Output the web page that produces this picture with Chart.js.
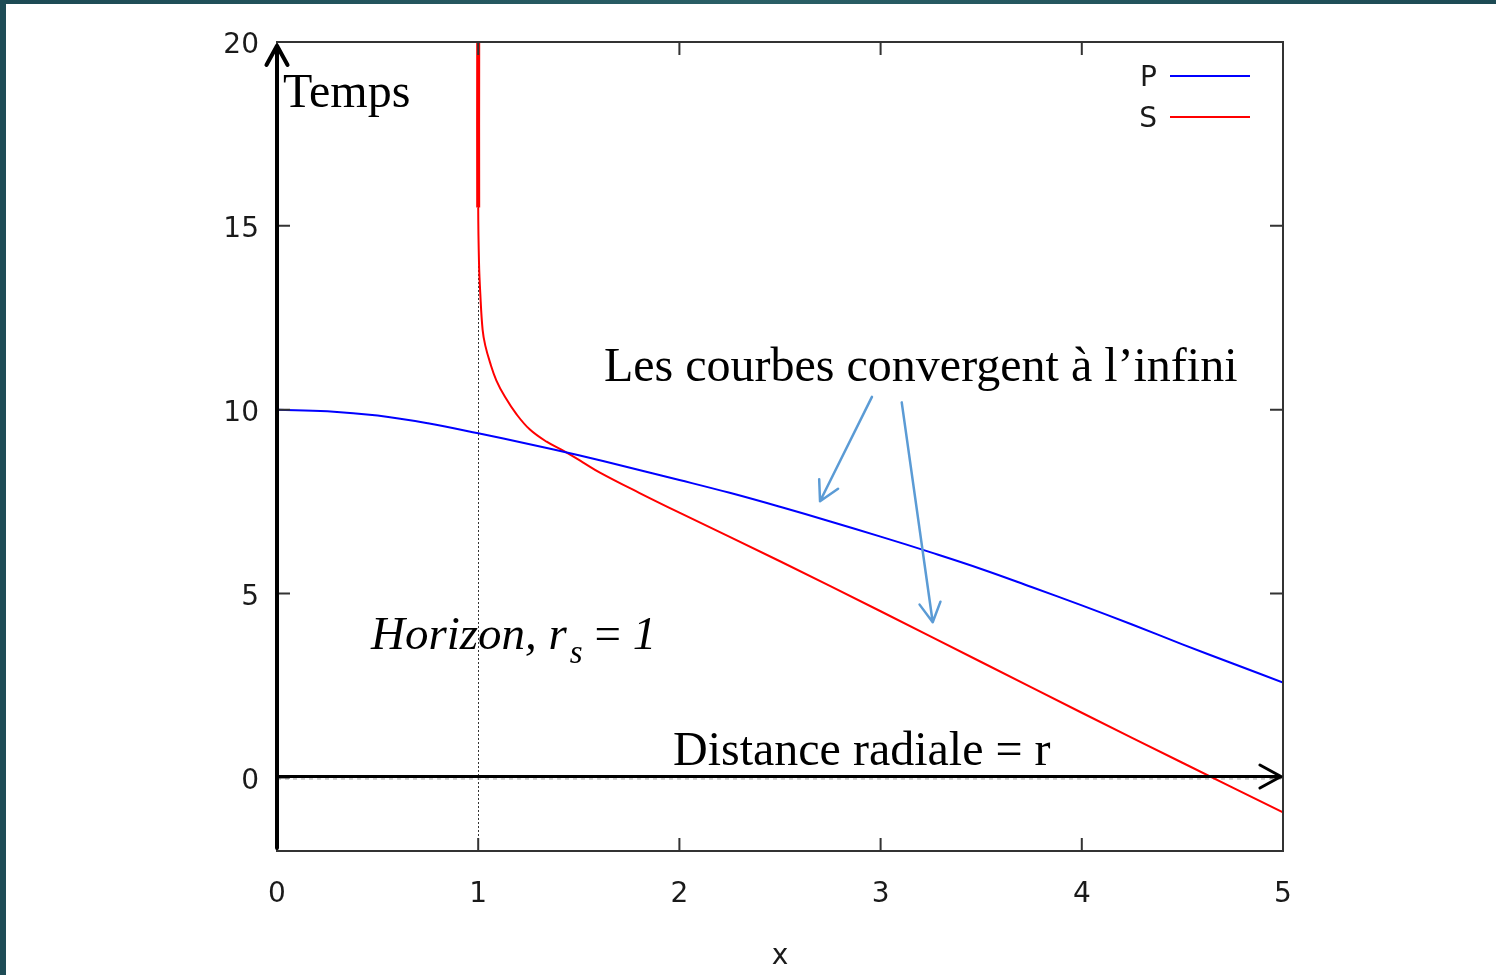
<!DOCTYPE html>
<html>
<head>
<meta charset="utf-8">
<script src="https://cdn.jsdelivr.net/npm/chart.js@4"></script>
<style>
  html, body { margin: 0; padding: 0; background: #fff; }
  #wrap { width: 1496px; height: 975px; }
</style>
</head>
<body>
<div id="wrap"><canvas id="grafico" width="1496" height="975"></canvas></div>
<script>
// Données
const xTicks = [0, 1, 2, 3, 4, 5];
const yTicks = [0, 5, 10, 15, 20];

const pX = [0, 0.25, 0.5, 0.75, 1, 1.25, 1.5, 1.75, 2, 2.25, 2.5, 2.75, 3, 3.25, 3.5, 3.75, 4, 4.25, 4.5, 4.75, 5];
const pT = [10.00, 9.96, 9.84, 9.63, 9.36, 9.07, 8.76, 8.43, 8.09, 7.74, 7.36, 6.96, 6.55, 6.12, 5.67, 5.18, 4.68, 4.16, 3.62, 3.10, 2.58];

const sX = [1.0, 1.0, 1.004, 1.01, 1.022, 1.035, 1.059, 1.09, 1.133, 1.19, 1.257, 1.34, 1.431, 1.52, 1.605, 1.8, 2.0, 2.5, 3.0, 3.5, 4.0, 4.5, 5.0];
const sT = [20, 15.5, 14.0, 13.2, 12.17, 11.75, 11.28, 10.8, 10.35, 9.88, 9.46, 9.13, 8.86, 8.57, 8.29, 7.74, 7.2, 5.88, 4.52, 3.14, 1.76, 0.4, -0.95];

const serif = '"Liberation Serif", "Times New Roman", serif';
const sans = '"DejaVu Sans", Verdana, sans-serif';

document.addEventListener("DOMContentLoaded", () => {
  function fleche(ctx, x0, y0, x1, y1, head, width, color) {
    const a = Math.atan2(y1 - y0, x1 - x0);
    ctx.save();
    ctx.strokeStyle = color;
    ctx.lineWidth = width;
    ctx.lineCap = "round";
    ctx.lineJoin = "round";
    ctx.beginPath();
    ctx.moveTo(x0, y0);
    ctx.lineTo(x1, y1);
    ctx.moveTo(x1 - head * Math.cos(a - 0.5), y1 - head * Math.sin(a - 0.5));
    ctx.lineTo(x1, y1);
    ctx.lineTo(x1 - head * Math.cos(a + 0.5), y1 - head * Math.sin(a + 0.5));
    ctx.stroke();
    ctx.restore();
  }

  const decor = {
    id: "decor",
    beforeDraw(chart) {
      const ctx = chart.ctx;
      ctx.save();
      const g = ctx.createLinearGradient(0, 0, 1496, 0);
      g.addColorStop(0, "#1d4a54");
      g.addColorStop(0.5, "#2a5f66");
      g.addColorStop(1, "#1d4a54");
      ctx.fillStyle = g;
      ctx.fillRect(0, 0, 1496, 4);
      ctx.fillStyle = "#1e4c56";
      ctx.fillRect(0, 0, 6, 975);
      ctx.restore();
    },
    beforeDatasetsDraw(chart) {
      const { ctx, chartArea: a, scales: { x, y } } = chart;
      ctx.save();
      // ligne de l'horizon
      ctx.strokeStyle = "#333";
      ctx.lineWidth = 1;
      ctx.setLineDash([2, 2]);
      ctx.beginPath();
      ctx.moveTo(Math.round(x.getPixelForValue(1)) + 0.5, a.top);
      ctx.lineTo(Math.round(x.getPixelForValue(1)) + 0.5, a.bottom);
      ctx.stroke();
      // ligne zéro
      ctx.strokeStyle = "#999";
      ctx.setLineDash([4, 4]);
      ctx.beginPath();
      ctx.moveTo(a.left, y.getPixelForValue(0) + 1.5);
      ctx.lineTo(a.right, y.getPixelForValue(0) + 1.5);
      ctx.stroke();
      ctx.restore();
    },
    afterDraw(chart) {
      const { ctx, chartArea: a, scales: { x, y } } = chart;
      ctx.save();
      // cadre + graduations intérieures
      ctx.strokeStyle = "#333";
      ctx.lineWidth = 2;
      ctx.strokeRect(a.left, a.top, a.right - a.left, a.bottom - a.top);
      ctx.beginPath();
      xTicks.forEach(v => {
        const px = x.getPixelForValue(v);
        ctx.moveTo(px, a.bottom); ctx.lineTo(px, a.bottom - 13);
        ctx.moveTo(px, a.top); ctx.lineTo(px, a.top + 13);
      });
      yTicks.forEach(v => {
        const py = y.getPixelForValue(v);
        ctx.moveTo(a.left, py); ctx.lineTo(a.left + 13, py);
        ctx.moveTo(a.right, py); ctx.lineTo(a.right - 13, py);
      });
      ctx.stroke();

      // légende
      ctx.font = "28px " + sans;
      ctx.textAlign = "right";
      ctx.textBaseline = "middle";
      chart.data.datasets.forEach((ds, i) => {
        const ly = a.top + 34 + i * 41;
        ctx.fillStyle = "#1a1a1a";
        ctx.fillText(ds.label, a.right - 126, ly + 3);
        ctx.strokeStyle = ds.borderColor;
        ctx.lineWidth = 2;
        ctx.beginPath();
        ctx.moveTo(a.right - 113, ly);
        ctx.lineTo(a.right - 33, ly);
        ctx.stroke();
      });

      // axes fléchés
      const x0 = x.getPixelForValue(0), y0 = y.getPixelForValue(0);
      fleche(ctx, x0, a.bottom - 3, x0, y.getPixelForValue(19.9), 22, 4, "#000");
      fleche(ctx, x0, y0 - 1, x.getPixelForValue(4.99), y0 - 1, 24, 3, "#000");

      // flèches bleues
      fleche(ctx, x.getPixelForValue(2.957), y.getPixelForValue(10.35),
        x.getPixelForValue(2.699), y.getPixelForValue(7.51), 22, 2.5, "#5b9bd5");
      fleche(ctx, x.getPixelForValue(3.105), y.getPixelForValue(10.2),
        x.getPixelForValue(3.259), y.getPixelForValue(4.22), 22, 2.5, "#5b9bd5");

      // textes
      ctx.fillStyle = "#000";
      ctx.textAlign = "left";
      ctx.textBaseline = "alphabetic";
      ctx.font = "48px " + serif;
      ctx.fillText("Temps", x.getPixelForValue(0.03), y.getPixelForValue(18.23));
      ctx.fillText("Les courbes convergent à l’infini", x.getPixelForValue(1.625), y.getPixelForValue(10.79));
      ctx.fillText("Distance radiale = r", x.getPixelForValue(1.968), y.getPixelForValue(0.33));

      let hx = x.getPixelForValue(0.467);
      const hy = y.getPixelForValue(3.5);
      ctx.font = "italic 47px " + serif;
      ctx.fillText("Horizon, r", hx, hy);
      hx += ctx.measureText("Horizon, r").width + 3;
      ctx.font = "italic 33px " + serif;
      ctx.fillText("s", hx, hy + 14);
      hx += ctx.measureText("s").width;
      ctx.font = "47px " + serif;
      ctx.fillText(" = ", hx, hy);
      hx += ctx.measureText(" = ").width;
      ctx.font = "italic 47px " + serif;
      ctx.fillText("1", hx, hy);
      ctx.restore();
    }
  };

  function grafico() {
    const el = document.getElementById("grafico");
    new Chart(el.getContext("2d"), {
      type: "line",
      data: {
        datasets: [
          {
            label: "P",
            data: pX.map((v, i) => ({ x: v, y: pT[i] })),
            borderColor: "#0000ff",
            borderWidth: 2,
            pointRadius: 0,
            tension: 0.4,
            fill: false
          },
          {
            label: "S",
            data: sX.map((v, i) => ({ x: v, y: sT[i] })),
            borderColor: "#ff0000",
            borderWidth: 2,
            pointRadius: 0,
            tension: 0.4,
            fill: false,
            segment: {
              borderWidth: c => c.p0DataIndex === 0 ? 4 : 2
            }
          }
        ]
      },
      options: {
        responsive: false,
        animation: false,
        events: [],
        layout: { padding: { left: 0, top: 42, right: 213, bottom: 0 } },
        plugins: { legend: { display: false }, tooltip: { enabled: false } },
        scales: {
          x: {
            type: "linear",
            min: 0,
            max: 5,
            afterFit: s => { s.height = 124; },
            afterBuildTicks: s => { s.ticks = xTicks.map(v => ({ value: v })); },
            grid: { drawOnChartArea: false, drawTicks: false },
            border: { display: false },
            ticks: { color: "#1a1a1a", padding: 27, font: { family: sans, size: 28 } },
            title: {
              display: true,
              text: "x",
              color: "#1a1a1a",
              padding: { top: 0, bottom: 1 },
              font: { family: sans, size: 28 }
            }
          },
          y: {
            type: "linear",
            min: -2,
            max: 20,
            afterFit: s => { s.width = 277; },
            afterBuildTicks: s => { s.ticks = yTicks.map(v => ({ value: v })); },
            grid: { drawOnChartArea: false, drawTicks: false },
            border: { display: false },
            ticks: { color: "#1a1a1a", padding: 18, labelOffset: 4, font: { family: sans, size: 28 } }
          }
        }
      },
      plugins: [decor]
    });
  }
  grafico();
});
</script>
</body>
</html>
